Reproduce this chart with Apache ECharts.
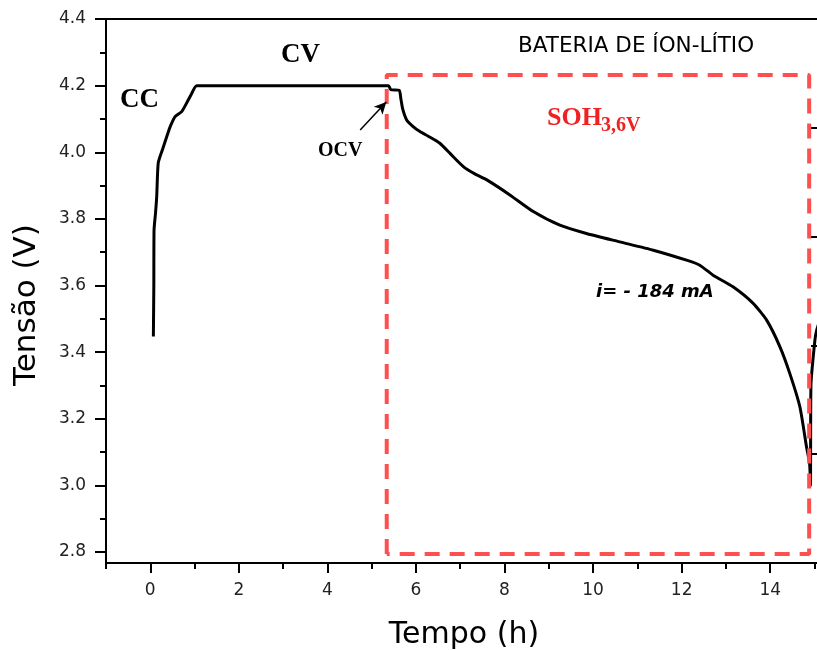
<!DOCTYPE html>
<html>
<head>
<meta charset="utf-8">
<script src="https://cdn.jsdelivr.net/npm/echarts@6/dist/echarts.min.js"></script>
<style>html,body{margin:0;padding:0;background:#fff}#c{width:817px;height:650px}</style>
</head>
<body>
<div id="c"></div>
<script>
// ---- data ----
var time = [0.07,0.08,0.085,0.12,0.145,0.18,0.28,0.38,0.45,0.56,0.71,0.83,0.93,1.05,5.38,5.43,5.62,5.66,5.70,5.79,5.93,6.09,6.28,6.54,6.78,7.07,7.33,7.60,8.12,8.65,9.25,9.85,10.60,11.36,12.11,12.41,12.71,13.16,13.61,13.92,14.22,14.44,14.67,14.82,14.89,14.91,14.92,15.01,15.05,15.13];
var voltage = [3.447,3.60,3.766,3.82,3.866,3.968,4.01,4.05,4.077,4.107,4.122,4.15,4.175,4.2,4.2,4.188,4.186,4.16,4.13,4.097,4.078,4.062,4.048,4.027,3.995,3.957,3.935,3.917,3.872,3.822,3.781,3.756,3.731,3.706,3.676,3.661,3.631,3.596,3.547,3.496,3.416,3.337,3.236,3.116,3.066,3.0,3.3,3.436,3.466,3.5];
var xMajorTicks = [0,2,4,6,8,10,12,14];
var xMinorTicks = [-1,1,3,5,7,9,11,13,15];
var yMajorTicks = [2.8,3.0,3.2,3.4,3.6,3.8,4.0,4.2,4.4];
var yMinorTicks = [2.9,3.1,3.3,3.5,3.7,3.9,4.1,4.3];
var boxX = [5.34, 14.88];
var boxY = [2.794, 4.232];
var arrowFrom = [4.74, 4.067];
var arrowTo = [5.33, 4.151];
var xRange = [-1, 15.17];
var yRange = [2.767, 4.4];

var boxData = [[boxX[0],boxY[0]],[boxX[0],boxY[1]],[boxX[1],boxY[1]],[boxX[1],boxY[0]],[boxX[0],boxY[0]]];
var curve = time.map(function(t,i){return [t, voltage[i]];});

var tickFont = {fontFamily:'"DejaVu Sans", sans-serif', fontSize:17, color:'#222'};
var chart = echarts.init(document.getElementById('c'), null, {renderer:'canvas'});
chart.setOption({
  animation:false,
  backgroundColor:'#fff',
  grid:{left:106, top:19, width:716, height:544, containLabel:false, outerBoundsMode:'none',
        show:true, borderColor:'#000', borderWidth:2, backgroundColor:'transparent'},
  xAxis:[
    {type:'value', position:'bottom', min:xRange[0], max:xRange[1],
     name:'Tempo (h)', nameLocation:'middle', nameGap:57,
     nameTextStyle:{fontFamily:'"DejaVu Sans", sans-serif', fontSize:30, color:'#000'},
     axisLine:{show:true, onZero:false, lineStyle:{color:'#000', width:2}},
     axisTick:{show:true, inside:false, length:10, lineStyle:{color:'#000', width:2}, customValues:xMajorTicks},
     axisLabel:Object.assign({show:true, margin:19, customValues:xMajorTicks}, tickFont),
     splitLine:{show:false}},
    {type:'value', position:'bottom', min:xRange[0], max:xRange[1],
     axisLine:{show:false, onZero:false},
     axisTick:{show:true, inside:false, length:6, lineStyle:{color:'#000', width:2}, customValues:xMinorTicks},
     axisLabel:{show:false, customValues:xMinorTicks},
     splitLine:{show:false}}
  ],
  yAxis:[
    {type:'value', position:'left', min:yRange[0], max:yRange[1],
     name:'Tensão (V)', nameLocation:'middle', nameGap:64,
     nameTextStyle:{fontFamily:'"DejaVu Sans", sans-serif', fontSize:31, color:'#000', padding:[0,28,0,0]},
     axisLine:{show:true, onZero:false, lineStyle:{color:'#000', width:2}},
     axisTick:{show:true, inside:false, length:11, lineStyle:{color:'#000', width:2}, customValues:yMajorTicks},
     axisLabel:Object.assign({show:true, margin:20, customValues:yMajorTicks, formatter:function(v){return v.toFixed(1);}}, tickFont),
     splitLine:{show:false}},
    {type:'value', position:'left', min:yRange[0], max:yRange[1],
     axisLine:{show:false, onZero:false},
     axisTick:{show:true, inside:false, length:6, lineStyle:{color:'#000', width:2}, customValues:yMinorTicks},
     axisLabel:{show:false, customValues:yMinorTicks},
     splitLine:{show:false}},
    {type:'value', position:'right', min:0, max:5, interval:1,
     axisLine:{show:true, onZero:false, lineStyle:{color:'#000', width:2}},
     axisTick:{show:true, inside:true, length:11, lineStyle:{color:'#000', width:2}},
     axisLabel:{show:false},
     splitLine:{show:false}}
  ],
  series:[
    {type:'line', xAxisIndex:0, yAxisIndex:0, data:curve, showSymbol:false, symbol:'none',
     smooth:0.2,
     lineStyle:{color:'#000', width:3}, z:3, silent:true,
     markLine:{silent:true, symbol:['none','arrow'], symbolSize:[9,12],
       lineStyle:{color:'#000', width:1.5, type:'solid'}, label:{show:false},
       data:[[{coord:arrowFrom},{coord:arrowTo}]]}},
    {type:'line', xAxisIndex:0, yAxisIndex:0, data:boxData, showSymbol:false, symbol:'none',
     lineStyle:{color:'#ff4f4f', width:4, type:[15,10]}, z:4, silent:true}
  ],
  graphic:[
    {type:'text', x:120, y:100, z:10, style:{text:'CC', font:'bold 27px "Liberation Serif", serif', fill:'#000', textAlign:'left', textVerticalAlign:'middle'}},
    {type:'text', x:281, y:55, z:10, style:{text:'CV', font:'bold 27px "Liberation Serif", serif', fill:'#000', textAlign:'left', textVerticalAlign:'middle'}},
    {type:'text', x:318, y:151, z:10, style:{text:'OCV', font:'bold 20px "Liberation Serif", serif', fill:'#000', textAlign:'left', textVerticalAlign:'middle'}},
    {type:'text', x:518, y:46, z:10, style:{text:'BATERIA DE ÍON-LÍTIO', font:'21.5px "DejaVu Sans", sans-serif', fill:'#000', textAlign:'left', textVerticalAlign:'middle'}},
    {type:'text', x:547, y:118, z:10, style:{text:'SOH', font:'bold 26px "Liberation Serif", serif', fill:'#ee2222', textAlign:'left', textVerticalAlign:'middle'}},
    {type:'text', x:601, y:126, z:10, style:{text:'3,6V', font:'bold 20px "Liberation Serif", serif', fill:'#ee2222', textAlign:'left', textVerticalAlign:'middle'}},
    {type:'text', x:596, y:292, z:10, style:{text:'i= - 184 mA', font:'italic bold 18px "DejaVu Sans", sans-serif', fill:'#000', textAlign:'left', textVerticalAlign:'middle'}}
  ]
});
</script>
</body>
</html>
